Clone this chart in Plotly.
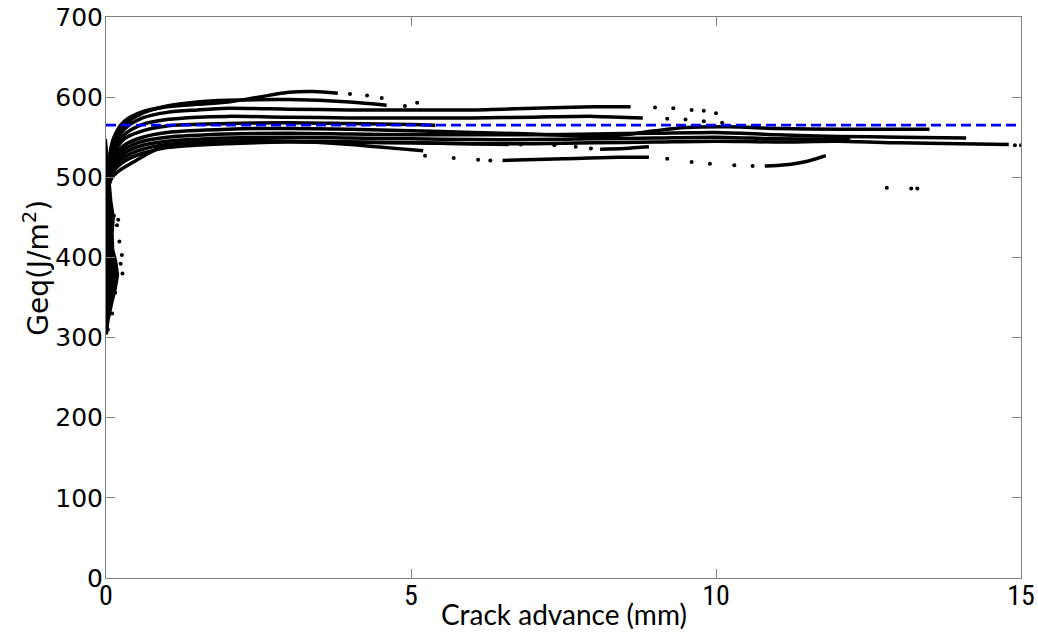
import plotly.graph_objects as go

# ---------------- data ----------------
# main curves (crack advance in mm, Geq in J/m^2)
c1_x = [0.02, 0.12, 0.3, 0.6, 1.0, 1.5, 2.0, 2.5, 3.0, 3.4, 3.8]
c1_y = [505, 548, 570, 582, 588, 591, 594, 600, 606, 607, 605]
c2_x = [0.02, 0.12, 0.3, 0.6, 1.0, 1.5, 2.0, 3.0, 4.0, 4.6]
c2_y = [500, 542, 565, 580, 589, 594, 596, 597, 594, 590]
c3_x = [0.02, 0.12, 0.3, 0.6, 1.0, 1.5, 2.0, 3.0, 4.0, 5.0, 6.0, 7.0, 8.0, 8.6]
c3_y = [498, 538, 560, 574, 581, 584, 586, 585, 584, 584, 584, 586, 588, 588]
c4_x = [0.02, 0.12, 0.3, 0.6, 1.0, 1.5, 2.0, 3.0, 4.0, 5.0, 6.0, 7.0, 8.0, 8.8]
c4_y = [495, 532, 553, 566, 572, 575, 576, 575, 574, 574, 574, 575, 576, 574]
c11_x = [0.02, 0.12, 0.3, 0.6, 1.0, 2.0, 3.0, 4.0, 5.0, 5.4]
c11_y = [493, 528, 548, 558, 564, 567, 568, 567, 566, 565]
c5_x = [0.02, 0.1, 0.3, 0.6, 1.0, 2.0, 3.0, 4.0, 5.0, 6.0, 7.0, 8.0, 8.5, 9.0, 9.5,
        10.2, 11.0, 12.0, 13.0, 13.5]
c5_y = [492, 522, 540, 550, 556, 560, 561, 560, 558, 556, 554, 551, 553, 558, 562,
        563, 561, 560, 560, 560]
c6_x = [0.02, 0.1, 0.3, 0.6, 1.0, 2.0, 3.0, 4.0, 5.0, 6.0, 7.0, 8.0, 9.0, 10.0, 11.0,
        12.0, 13.0, 14.1]
c6_y = [490, 518, 535, 545, 550, 554, 555, 554, 553, 553, 553, 554, 555, 556, 553,
        551, 550, 549]
c7_x = [0.02, 0.1, 0.3, 0.6, 1.0, 2.0, 3.0, 4.0, 5.0, 6.0, 7.0, 8.0, 9.0, 10.0, 11.0, 12.2]
c7_y = [488, 515, 530, 540, 545, 549, 550, 549, 548, 547, 547, 548, 549, 550, 548, 547]
c8_x = [0.02, 0.1, 0.3, 0.6, 1.0, 2.0, 3.0, 4.0, 5.0, 6.0, 7.0, 8.0, 9.0, 10.0, 11.0,
        12.0, 13.0, 14.0, 14.8]
c8_y = [485, 510, 525, 535, 541, 545, 545, 544, 543, 542, 542, 543, 544, 545, 544,
        545, 543, 542, 541]
c9_x = [0.02, 0.1, 0.3, 0.6, 1.0, 2.0, 3.0, 4.0, 5.0, 6.0, 6.6]
c9_y = [483, 505, 520, 530, 537, 542, 544, 544, 543, 542, 541]
c9b_x = [8.1, 8.5, 8.9]
c9b_y = [535, 536, 538]
c10_x = [0.02, 0.1, 0.25, 0.45, 0.7, 1.0, 2.0, 3.0, 4.0, 4.6, 5.2]
c10_y = [480, 500, 510, 519, 530, 540, 545, 545, 541, 537, 533]
c10b_x = [6.5, 7.5, 8.4, 8.9]
c10b_y = [521, 523, 525, 525]
c10c_x = [10.8, 11.2, 11.5, 11.8]
c10c_y = [514, 516, 520, 527]

# isolated (sparse) points
dots_x = [4.0, 4.28, 4.52, 4.9, 5.1, 9.0, 9.3, 9.6, 9.8, 10.0, 9.2, 9.5, 9.8, 10.1,
          14.9, 15.0, 6.8, 7.35, 7.7, 7.95, 5.23, 5.7, 6.1, 6.3, 9.2, 9.6, 9.9, 10.3,
          10.6, 12.8, 13.2, 13.3]
dots_y = [604, 602, 599, 589, 593, 587, 586, 584, 583, 580, 573, 572, 570, 568,
          540, 540, 541, 540, 538, 536, 527, 524, 522, 521, 523, 519, 517, 515,
          514, 487, 486, 486]

# dense initial band at x ~ 0
band_x = [0.0, 0.03, 0.06, 0.09, 0.13, 0.11, 0.12, 0.17, 0.2, 0.16, 0.11, 0.07, 0.04, 0.02, 0.0]
band_y = [548, 520, 490, 470, 450, 430, 410, 395, 378, 360, 345, 330, 320, 305, 305]
band_out_x = [0.26, 0.27, 0.20, 0.15, 0.03, 0.22, 0.18, 0.10, 0.24, 0.13]
band_out_y = [403, 380, 447, 356, 310, 420, 440, 330, 392, 452]

# reference level
ref_level = 565
x_range = [0, 15]
y_range = [0, 700]
x_ticks = [0, 5, 10, 15]
y_ticks = [0, 100, 200, 300, 400, 500, 600, 700]
x_title = "Crack advance (mm)"
y_title = "Geq(J/m<sup>2</sup>)"

curves = [(c1_x, c1_y), (c2_x, c2_y), (c3_x, c3_y), (c4_x, c4_y), (c11_x, c11_y),
          (c5_x, c5_y), (c6_x, c6_y), (c7_x, c7_y), (c8_x, c8_y), (c9_x, c9_y),
          (c9b_x, c9b_y), (c10_x, c10_y), (c10b_x, c10b_y), (c10c_x, c10c_y)]

fig = go.Figure()

fig.add_trace(go.Scatter(x=band_x, y=band_y, mode="lines", fill="toself",
                         fillcolor="black", line=dict(color="black", width=2),
                         hoverinfo="skip", showlegend=False))
for cx, cy in curves:
    fig.add_trace(go.Scatter(x=cx, y=cy, mode="lines",
                             line=dict(color="black", width=3.5, shape="spline", smoothing=0.8),
                             showlegend=False))
fig.add_trace(go.Scatter(x=dots_x + band_out_x, y=dots_y + band_out_y, mode="markers",
                         marker=dict(color="black", size=4), showlegend=False))
fig.add_trace(go.Scatter(x=x_range, y=[ref_level, ref_level], mode="lines",
                         line=dict(color="#0000FF", width=2.8, dash="10px,5px"),
                         showlegend=False))

axis_common = dict(showgrid=False, zeroline=False, showline=True, linecolor="#7f7f7f",
                   linewidth=1, mirror="ticks", ticks="inside", ticklen=9,
                   tickcolor="#7f7f7f", automargin=False, ticklabeloverflow="allow")

narrow = "Liberation Sans Narrow, Roboto Condensed, Roboto"

fig.update_layout(
    width=1038, height=644,
    margin=dict(l=106, r=17, t=17, b=66),
    paper_bgcolor="white", plot_bgcolor="white",
    xaxis=dict(range=x_range, tickvals=x_ticks, **axis_common,
               ticklabelstandoff=-8,
               tickfont=dict(family=narrow, size=28, color="black")),
    yaxis=dict(range=y_range, tickvals=y_ticks, **axis_common,
               ticklabelstandoff=-3,
               tickfont=dict(family="DejaVu Sans", size=25, color="black")),
    annotations=[
        dict(text=y_title, xref="paper", yref="paper",
             x=-0.0754, y=0.553, xanchor="center", yanchor="middle",
             textangle=-90, showarrow=False,
             font=dict(family="DejaVu Sans", size=28, color="black")),
        dict(text=x_title, xref="paper", yref="paper",
             x=0.5, y=-0.064, xanchor="center", yanchor="middle",
             showarrow=False,
             font=dict(family="Lato", size=28, color="black")),
    ],
)

# remove the browser's default 8px body margin so the figure fills the window
fig.write_html("out.html", config={"displayModeBar": False},
               post_script="document.body.style.margin='0px';")
